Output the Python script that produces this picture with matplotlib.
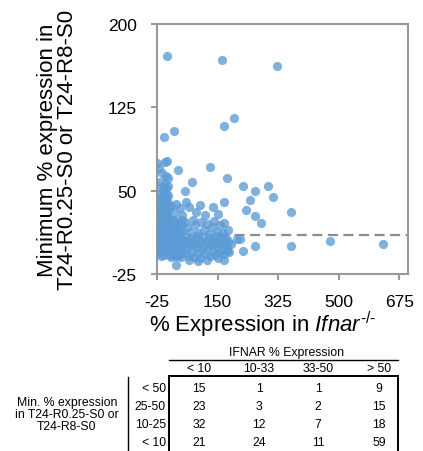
import numpy as np
import matplotlib
matplotlib.use("Agg")
import matplotlib.pyplot as plt
from matplotlib.lines import Line2D

plt.rcParams['font.family'] = ['Liberation Sans', 'DejaVu Sans']
plt.rcParams['mathtext.fontset'] = 'custom'
plt.rcParams['mathtext.rm'] = 'Liberation Sans'
plt.rcParams['mathtext.it'] = 'Liberation Sans:italic'
plt.rcParams['axes.unicode_minus'] = False

# % expression in Ifnar-/- (x) and minimum % expression (y)
# x < 10
x_a = [4, -4, -25, -1, 4, -20, -10, 0, 6, -15, -3, 8, -22, 2, -8,
       -25, -18, -12, -5, 3, 8, -22, -9, 0, 6, -16, -3, 9, -24, -11, 1, 5, -19, -7, 3, -14, 7, -1,
       -25, -20, -15, -10, -5, 0, 5, 9, -23, -17, -12, -7, -2, 3, 8, -25, -19, -13, -8, -3, 2, 7,
       -21, -15, -10, -4, 1, 6, 9, -6, 4, -18,
       -25, -20, -14, -9, -3, 2, 7, -22, -16, -11, -6, 0, 5, 9, -18, -6, 3, -24, 8, -12, -14]
y_a = [171, 98, 75, 76, 77, 70, 66, 63, 61, 58, 56, 54, 53, 52, 51,
       37, 46, 44, 48, 47, 45, 42, 40, 41, 39, 35, 36, 34, 31, 30, 32, 29, 28, 27, 26, 38, 25, 33,
       24, 22, 23, 24, 22, 23, 24, 22, 19, 18, 20, 19, 18, 20, 17, 15, 14, 16, 15, 14, 16, 13,
       11, 12, 11, 10, 12, 11, 15, 13, 18, 21,
       2, 5, 3, 7, 4, 6, 2, -2, 0, -4, -1, 1, -3, 8, 8, -7.6, -5, -6, -1, 9, -9]
# 10 - 33
x_b = [23, 15, 24, 31,
       12, 17, 22, 27, 31, 14, 19, 25, 30, 11, 21, 28,
       11, 14, 17, 20, 23, 26, 29, 32, 12, 15, 18, 21, 24, 27, 30, 33, 13, 16, 19, 22, 25, 28, 29.5, 31]
y_b = [104, 36, 30, 38,
       22, 19, 24, 17, 21, 13, 11, 14, 12, 18, 16, 23,
       6, 2, -3, 8, 1, -6, 4, -1, -8, 9, 5, -5, -1, 7, -9, 2, -2, -10, 3, -8, 9, 0, -16.6, 6]
# 33 - 50
x_c = [37, 40, 47, 34, 37, 41, 44, 48, 36, 46,
       34, 37, 40, 42, 44, 47, 49, 35, 39, 45, 48]
y_c = [69, 34, 28, 15, 21, 12, 18, 24, 11, 14,
       5, -2, 8, -7, 1, -4, 6, -9, 3, -10, 0]
# > 50
x_d = [163, 322, 197, 169, 128, 176, 75, 224, 295,
       257, 56, 310, 243, 169, 231, 362, 136, 66, 257, 114, 60, 88, 100, 150,
       276, 169, 55, 62, 70, 78, 85, 93, 102, 110, 118, 125, 133, 140, 148, 156, 165, 180,
       205, 215, 224, 257, 362, 474, 628, 169, 176,
       52, 55, 58, 61, 64, 67, 70, 73, 76, 79, 82, 85, 88, 91, 94, 97, 100, 103, 106, 109,
       112, 115, 118, 121, 124, 127, 130, 133, 136, 139, 142, 145, 148, 151, 154, 157, 160, 163,
       166, 169, 172, 175, 178, 181, 184, 68, 92, 120, 150, 190]
y_d = [168, 162, 115, 108, 71, 61, 58, 54, 54,
       49.5, 49.5, 44, 42, 40, 33, 31, 35, 35, 27, 28, 40, 31, 37, 29,
       21, 21, 22, 17, 13, 24, 19, 12, 22, 15, 20, 11, 17, 23, 13, 19, 12, 15,
       6.5, 6.5, -4, 0, 0, 4.4, 2, -12.4, -4,
       3, -6, 8, -2, 5, -9, 1, 7, -4, 3, -10, 6, -1, 9, -6, 2, -11, 5, -3, 8,
       0, -7, 4, -2, 7, -9, 1, 6, -4, 3, -8, 9, -1, 5, -6, 2, 8, -3,
       4, -7, 1, 7, -2, 5, -5, -12, -13, -12, -11, 2]

x_all = x_a + x_b + x_c + x_d
y_all = y_a + y_b + y_c + y_d
cutoff = 10

# contingency table
col_labels = ['< 10', '10-33', '33-50', '> 50']
row_labels = ['< 50', '25-50', '10-25', '< 10']
counts = [[15, 1, 1, 9],
          [23, 3, 2, 15],
          [32, 12, 7, 18],
          [21, 24, 11, 59]]

W, H = 423, 452
fig = plt.figure(figsize=(W / 100, H / 100), dpi=100)
ax = fig.add_axes([157 / W, 1 - 275 / H, 251 / W, 250 / H])

ax.scatter(x_all, y_all, s=44, color='#5b9bd5', alpha=0.78, linewidths=0, zorder=3)
ax.plot([155, 700], [cutoff, cutoff], color='#8c8c8c', lw=1.6, ls=(0, (4.5, 2.5)), zorder=2)

ax.set_xlim(-25, 700)
ax.set_ylim(-25, 200)
ax.set_xticks([-25, 150, 325, 500, 675])
ax.set_yticks([-25, 50, 125, 200])
ax.tick_params(colors='#999999', labelcolor='black', labelsize=12.5, length=4, width=1.5, pad=10.5)
for sp in ax.spines.values():
    sp.set_color('#999999')
    sp.set_linewidth(1.5)

ax.set_xlabel(r'% Expression in $\mathit{Ifnar}^{\text{-/-}}$', fontsize=16, va='center')
ax.xaxis.set_label_coords(0.42, -0.2)
ax.set_ylabel('Minimum % expression in\nT24-R0.25-S0 or T24-R8-S0', fontsize=16,
              va='center', linespacing=0.95)
ax.yaxis.set_label_coords(-0.395, 0.5)


def fx(px):
    return px / W


def fy(py):
    return 1 - py / H


tfs = 8.8
col_x = [199, 259, 318, 379]
row_y = [389, 407, 425, 443]
fig.text(fx(286), fy(353), 'IFNAR % Expression', fontsize=tfs, ha='center', va='center')
for cx, lab in zip(col_x, col_labels):
    fig.text(fx(cx), fy(369), lab, fontsize=tfs, ha='center', va='center')
for ry, lab, row in zip(row_y, row_labels, counts):
    fig.text(fx(166), fy(ry), lab, fontsize=tfs, ha='right', va='center')
    for cx, v in zip(col_x, row):
        fig.text(fx(cx), fy(ry), str(v), fontsize=tfs, ha='center', va='center')
fig.text(fx(67), fy(415), 'Min. % expression\nin T24-R0.25-S0 or\nT24-R8-S0', fontsize=tfs,
         ha='center', va='center', linespacing=1.05)

lines = [([169, 398], [361, 361], 1.0),
         ([169, 398], [377, 377], 1.4),
         ([169, 169], [377, 452], 1.4),
         ([398, 398], [377, 452], 1.4),
         ([128, 128], [378, 452], 1.0)]
for xs, ys, lw in lines:
    fig.add_artist(Line2D([fx(v) for v in xs], [fy(v) for v in ys], color='black', lw=lw))

fig.savefig('out.png', dpi=100)
